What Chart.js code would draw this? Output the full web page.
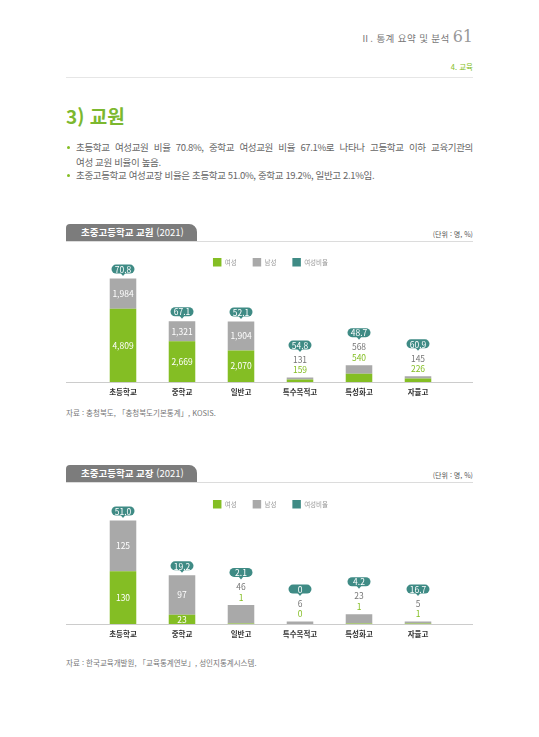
<!DOCTYPE html>
<html lang="ko">
<head>
<meta charset="utf-8">
<title>3) 교원</title>
<script src="https://cdn.jsdelivr.net/npm/chart.js"></script>
<style>
  body { margin: 0; background: #fff; font-family: "Noto Sans CJK KR", "Noto Sans", sans-serif; }
  .page { position: relative; width: 539px; height: 737px; overflow: hidden; }
  .abs { position: absolute; white-space: nowrap; }
  .runhead { right: 66px; top: 26px; line-height: 22px; color: #777; font-size: 9.5px; letter-spacing: 0.4px; }
  .runhead .num { font-family: "DejaVu Serif", serif; font-size: 16px; color: #999; letter-spacing: 0; margin-left: 3px; }
  .section { right: 66px; top: 61px; font-size: 7.5px; line-height: 12px; color: #84be24; }
  .rule { left: 66px; width: 407px; height: 1px; background: #e6e6e6; }
  .title { left: 66px; top: 103px; font-size: 19px; line-height: 26px; font-weight: bold; color: #7cb82f; }
  .bullet { left: 67px; width: 3px; height: 3px; border-radius: 50%; background: #84be24; }
  .line { left: 76px; font-size: 9.5px; line-height: 14px; color: #666; letter-spacing: -0.35px; }
  .justify { width: 397px; text-align: justify; text-align-last: justify; white-space: normal; }
  .tab { left: 66px; width: 131px; height: 17px; background: #7c7c7c; border-radius: 4px 8px 0 0;
         color: #fff; font-size: 9.5px; line-height: 17px; font-weight: bold; padding-left: 15px; box-sizing: border-box; }
  .tab span { font-weight: normal; }
  .tabline { left: 66px; width: 407px; height: 1px; background: #dcdcdc; }
  .unit { right: 66px; font-size: 7px; line-height: 10px; color: #555; }
  .source { left: 66px; font-size: 7.5px; line-height: 10px; color: #777; }
  .chartbox { position: absolute; left: 66px; width: 407px; height: 164px; }
</style>
</head>
<body>
<div class="page">
  <div class="abs runhead">Ⅱ. 통계 요약 및 분석<span class="num">61</span></div>
  <div class="abs section">4. 교육</div>
  <div class="abs rule" style="top:77px"></div>

  <div class="abs title">3) 교원</div>
  <div class="abs bullet" style="top:146px"></div>
  <div class="abs line justify" style="top:140px">초등학교 여성교원 비율 70.8%, 중학교 여성교원 비율 67.1%로 나타나 고등학교 이하 교육기관의</div>
  <div class="abs line" style="top:155px">여성 교원 비율이 높음.</div>
  <div class="abs bullet" style="top:174px"></div>
  <div class="abs line" style="top:168px">초중고등학교 여성교장 비율은 초등학교 51.0%, 중학교 19.2%, 일반고 2.1%임.</div>

  <div class="abs tab" style="top:224px">초중고등학교 교원 <span>(2021)</span></div>
  <div class="abs tabline" style="top:241px"></div>
  <div class="abs unit" style="top:229px">(단위 : 명, %)</div>
  <div class="chartbox" style="top:242px"><canvas id="teacherChart"></canvas></div>
  <div class="abs source" style="top:408px">자료 : 충청북도, 「충청북도기본통계」, KOSIS.</div>

  <div class="abs tab" style="top:465px">초중고등학교 교장 <span>(2021)</span></div>
  <div class="abs tabline" style="top:482px"></div>
  <div class="abs unit" style="top:470px">(단위 : 명, %)</div>
  <div class="chartbox" style="top:484px"><canvas id="principalChart"></canvas></div>
  <div class="abs source" style="top:658px">자료 : 한국교육개발원, 「교육통계연보」, 성인지통계시스템.</div>
</div>

<script>
// Data
const categories = ['초등학교', '중학교', '일반고', '특수목적고', '특성화고', '자율고'];
const seriesNames = ['여성', '남성', '여성비율'];

const teacherFemale = [4809, 2669, 2070, 159, 540, 226];
const teacherMale = [1984, 1321, 1904, 131, 568, 145];
const teacherRatio = [70.8, 67.1, 52.1, 54.8, 48.7, 60.9];

const principalFemale = [130, 23, 1, 0, 1, 1];
const principalMale = [125, 97, 46, 6, 23, 5];
const principalRatio = [51.0, 19.2, 2.1, 0, 4.2, 16.7];

const GREEN = '#84be24';
const GRAY = '#a9a9a9';
const TEAL = '#3f8b85';
const FONT = '"Noto Sans CJK KR", "Noto Sans", sans-serif';

Chart.defaults.font.family = FONT;

function fmt(v) {
    return v.toLocaleString('en-US');
}

function fmtRatio(v) {
    return v === 0 ? '0' : v.toFixed(1);
}

// Teal pill with a small pointer under it
function drawBubble(ctx, cx, cy, text) {
    const w = 23, h = 9;
    ctx.fillStyle = TEAL;
    ctx.beginPath();
    ctx.roundRect(cx - w / 2, cy - h / 2, w, h, h / 2);
    ctx.fill();
    ctx.beginPath();
    ctx.moveTo(cx - 2.5, cy + h / 2 - 0.5);
    ctx.lineTo(cx + 2.5, cy + h / 2 - 0.5);
    ctx.lineTo(cx, cy + h / 2 + 2.5);
    ctx.closePath();
    ctx.fill();
    ctx.fillStyle = '#fff';
    ctx.font = '8.5px ' + FONT;
    ctx.fillText(text, cx, cy + 0.5);
}

const valueLabels = {
    id: 'valueLabels',
    beforeDatasetsDraw(chart) {
        // Baseline across the full width
        const {ctx, scales: {y}} = chart;
        const y0 = Math.round(y.getPixelForValue(0)) + 0.5;
        ctx.save();
        ctx.strokeStyle = '#cccccc';
        ctx.lineWidth = 1;
        ctx.beginPath();
        ctx.moveTo(0, y0);
        ctx.lineTo(chart.width, y0);
        ctx.stroke();
        ctx.restore();
    },
    afterDatasetsDraw(chart) {
        const {ctx, scales: {x, y}} = chart;
        const [fem, mal, rat] = chart.data.datasets.map(d => d.data);
        ctx.save();
        ctx.textAlign = 'center';
        ctx.textBaseline = 'middle';
        fem.forEach((f, i) => {
            const m = mal[i];
            const cx = x.getPixelForValue(i);
            const base = y.getPixelForValue(0);
            const mid = y.getPixelForValue(f);
            const top = y.getPixelForValue(f + m);
            ctx.font = '8.5px ' + FONT;
            let bubbleY;
            if (base - top > 30) {
                ctx.fillStyle = '#fff';
                ctx.fillText(fmt(m), cx, (top + mid) / 2);
                ctx.fillText(fmt(f), cx, (mid + base) / 2);
                bubbleY = top - 9.5;
            } else {
                ctx.fillStyle = GREEN;
                ctx.fillText(fmt(f), cx, top - 7.5);
                ctx.fillStyle = '#777';
                ctx.fillText(fmt(m), cx, top - 18);
                bubbleY = top - 32.5;
            }
            drawBubble(ctx, cx, bubbleY, fmtRatio(rat[i]));
        });
        ctx.restore();
    }
};

function makeChart(id, female, male, ratio, yMax) {
    return new Chart(document.getElementById(id), {
        type: 'bar',
        data: {
            labels: categories,
            datasets: [{
                label: seriesNames[0],
                data: female,
                backgroundColor: GREEN,
                borderWidth: 0,
                barPercentage: 1,
                categoryPercentage: 0.45
            }, {
                label: seriesNames[1],
                data: male,
                backgroundColor: GRAY,
                borderWidth: 0,
                barPercentage: 1,
                categoryPercentage: 0.45
            }, {
                type: 'line',
                label: seriesNames[2],
                data: ratio,
                yAxisID: 'ratio',
                backgroundColor: TEAL,
                borderColor: TEAL,
                borderWidth: 0,
                showLine: false,
                pointRadius: 0
            }]
        },
        options: {
            responsive: true,
            maintainAspectRatio: false,
            animation: false,
            layout: { padding: { left: 27.5, right: 25.5, top: 0, bottom: 3 } },
            plugins: {
                tooltip: { enabled: false },
                legend: {
                    position: 'top',
                    labels: {
                        boxWidth: 8.5,
                        boxHeight: 8.5,
                        padding: 16,
                        color: '#999',
                        font: { size: 6.5 }
                    }
                }
            },
            scales: {
                x: {
                    stacked: true,
                    grid: { display: false, drawTicks: false },
                    border: { display: false },
                    ticks: { color: '#333', padding: 6, font: { size: 7.5, weight: 'bold' } }
                },
                y: { stacked: true, display: false, min: 0, max: yMax },
                ratio: { axis: 'y', position: 'right', display: false, min: 0, max: 100 }
            }
        },
        plugins: [valueLabels]
    });
}

makeChart('teacherChart', teacherFemale, teacherMale, teacherRatio, 6930);
makeChart('principalChart', principalFemale, principalMale, principalRatio, 260);
</script>
</body>
</html>
